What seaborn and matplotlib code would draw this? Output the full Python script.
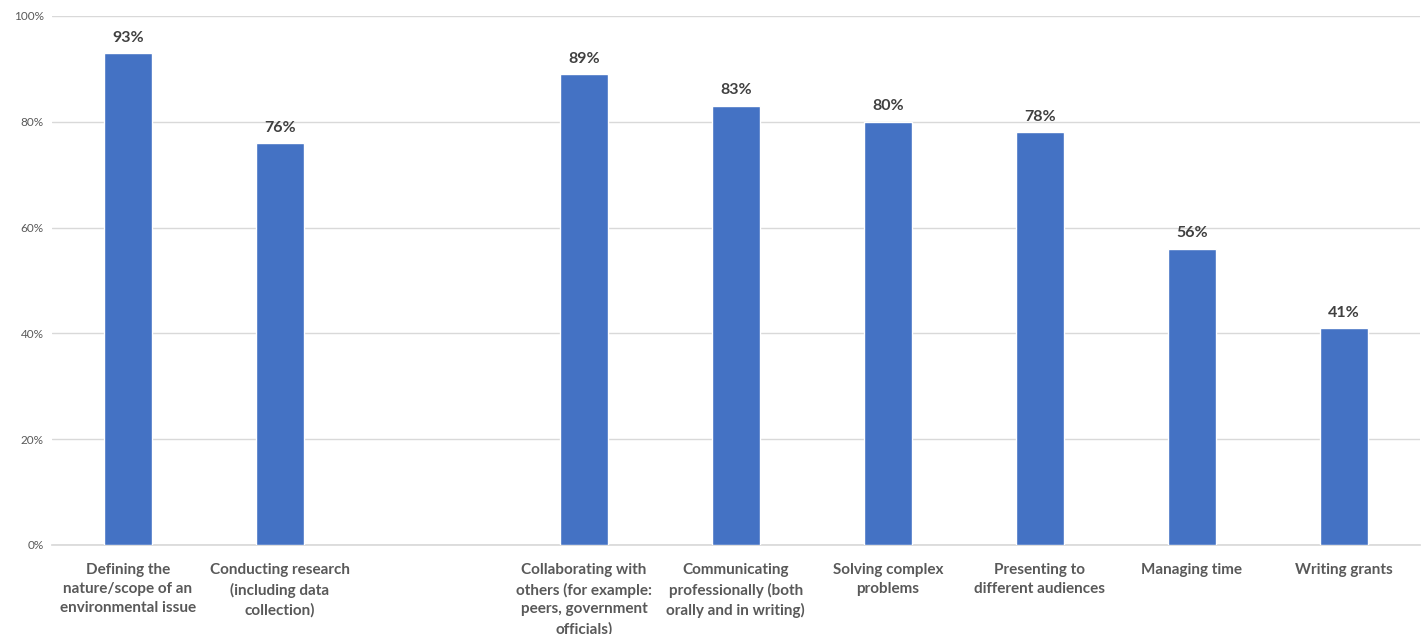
import matplotlib
matplotlib.use("Agg")
import matplotlib.pyplot as plt
import seaborn as sns
import pandas as pd
import numpy as np

categories = [
    "Defining the\nnature/scope of an\nenvironmental issue",
    "Conducting research\n(including data\ncollection)",
    "Collaborating with\nothers (for example:\npeers, government\nofficials)",
    "Communicating\nprofessionally (both\norally and in writing)",
    "Solving complex\nproblems",
    "Presenting to\ndifferent audiences",
    "Managing time",
    "Writing grants",
]
values = [93, 76, 89, 83, 80, 78, 56, 41]
slot_order = categories[:2] + [" "] + categories[2:]
yticks = [0, 20, 40, 60, 80, 100]

sns.set_theme(style="white")
plt.rcParams["font.family"] = ["Lato", "DejaVu Sans"]

df = pd.DataFrame({"skill": categories, "pct": values})

fig = plt.figure(figsize=(14.24, 6.34), dpi=100)
ax = fig.add_axes([0.0365, 0.1404, 0.9605, 0.8346])

sns.barplot(data=df, x="skill", y="pct", order=slot_order, color="#4472C4",
            saturation=1, width=0.315, ax=ax, zorder=3)

ax.set_ylim(0, 100)
ax.set_xlim(-0.5, len(slot_order) - 0.5)
ax.set_yticks(yticks)
ax.set_yticklabels([f"{t}%" for t in yticks], fontsize=8.5, color="#595959")
ax.yaxis.grid(True, color="#D9D9D9", linewidth=1, zorder=0)
ax.tick_params(axis="both", length=0, pad=6)
ax.tick_params(axis="x", pad=13)
for lbl in ax.get_xticklabels():
    lbl.set_fontsize(11)
    lbl.set_color("#595959")
    lbl.set_fontweight("bold")
    lbl.set_linespacing(1.45)
    lbl.set_verticalalignment("top")
ax.set_xlabel("")
ax.set_ylabel("")
for s in ["top", "right", "left"]:
    ax.spines[s].set_visible(False)
ax.spines["bottom"].set_color("#D9D9D9")

for c in ax.containers:
    ax.bar_label(c, labels=[f"{v:.0f}%" if not np.isnan(v) else "" for v in c.datavalues],
                 padding=6, fontsize=11.5, fontweight="bold", color="#404040")

fig.savefig("out.png", dpi=100)
